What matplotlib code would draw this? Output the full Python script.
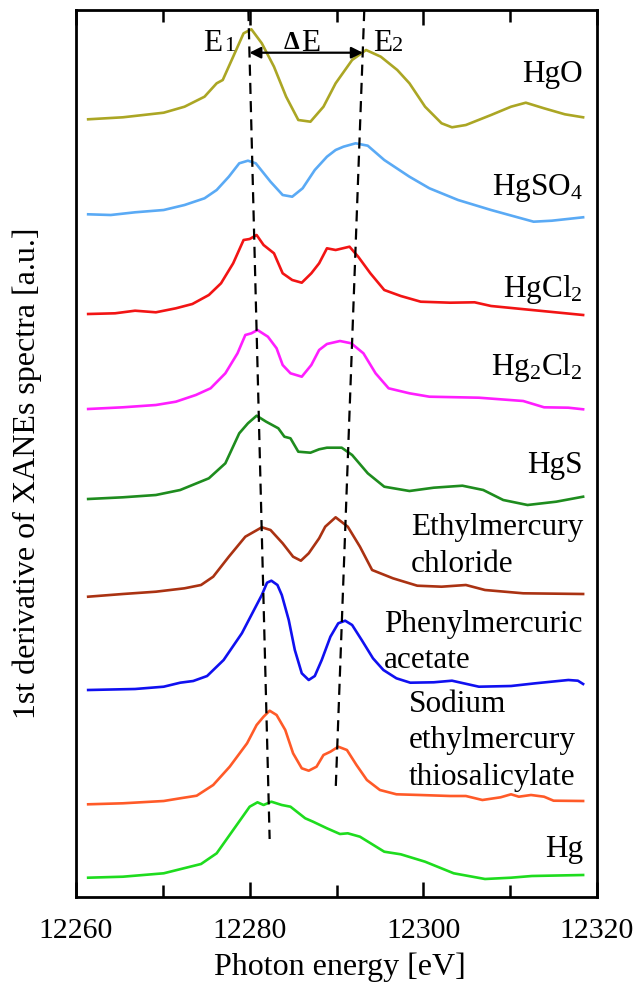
import matplotlib
matplotlib.use("Agg")
import matplotlib.pyplot as plt
from matplotlib.ticker import MultipleLocator

plt.rcParams["font.family"] = ["Liberation Serif", "DejaVu Serif"]
plt.rcParams["mathtext.fontset"] = "custom"
plt.rcParams["mathtext.rm"] = "Liberation Serif"
plt.rcParams["mathtext.it"] = "Liberation Serif:italic"

# ---- spectra: photon energy [eV] and 1st-derivative signal [a.u.] ----
e_hgo = [12261.4, 12265.4, 12270.1, 12272.5, 12274.8, 12276.2, 12276.9, 12278.1, 12279.3, 12280.2,
         12281.4, 12282.8, 12284.2, 12285.6, 12287.0, 12288.5, 12289.9, 12291.8, 12293.4, 12295.1,
         12297.0, 12298.4, 12300.2, 12302.1, 12303.3, 12304.9, 12307.8, 12310.1, 12311.8, 12313.9,
         12316.3, 12318.4]
d_hgo = [-2.3, -0.3, 4.3, 10.3, 20.3, 33.7, 37.0, 60.3, 83.7, 87.7,
         73.7, 50.3, 20.3, -3.0, -4.7, 10.3, 33.7, 57.0, 67.0, 60.3,
         47.0, 33.7, 10.3, -6.3, -10.3, -8.0, 2.0, 10.3, 14.3, 8.7,
         2.7, -0.3]

e_hgso4 = [12261.4, 12264.0, 12266.8, 12270.1, 12272.5, 12274.8, 12276.2, 12277.6, 12278.8, 12279.8,
           12280.7, 12282.4, 12283.8, 12284.9, 12286.1, 12287.5, 12288.9, 12289.9, 12290.8, 12292.2,
           12293.6, 12295.5, 12298.4, 12300.7, 12304.0, 12307.8, 12310.6, 12312.7, 12314.8, 12318.4]
d_hgso4 = [0.7, 0.0, 2.7, 5.0, 10.0, 16.7, 25.0, 38.3, 51.7, 54.3,
           51.7, 33.3, 20.0, 18.3, 26.7, 45.0, 58.3, 65.0, 68.3, 71.7,
           69.3, 55.0, 38.3, 26.7, 15.0, 5.0, -1.7, -6.7, -5.7, -2.3]

e_hgcl2 = [12261.4, 12264.5, 12266.8, 12269.2, 12271.5, 12273.4, 12275.3, 12276.7, 12278.1, 12279.3,
           12280.0, 12280.8, 12281.6, 12282.8, 12283.8, 12284.9, 12286.0, 12287.1, 12288.0, 12288.9,
           12289.9, 12291.5, 12292.5, 12293.9, 12295.5, 12297.4, 12299.7, 12303.1, 12305.9, 12307.8,
           12312.5, 12318.4]
d_hgcl2 = [0.0, 0.7, 3.3, 1.7, 5.7, 10.0, 19.0, 30.7, 50.7, 74.0,
           75.0, 79.0, 69.0, 60.7, 40.7, 34.0, 31.3, 40.7, 50.7, 65.7,
           64.0, 67.3, 57.3, 40.7, 24.0, 18.0, 12.3, 11.3, 11.7, 8.0,
           4.0, -1.0]

e_hg2cl2 = [12261.4, 12265.4, 12269.2, 12271.5, 12273.8, 12275.5, 12277.2, 12278.6, 12279.5, 12280.2,
            12280.9, 12282.1, 12283.1, 12283.8, 12284.7, 12286.0, 12287.1, 12288.0, 12288.9, 12290.4,
            12291.7, 12293.1, 12294.5, 12296.0, 12298.4, 12300.7, 12306.4, 12311.5, 12313.9, 12316.7,
            12318.4]
d_hg2cl2 = [0.0, 1.7, 4.0, 7.3, 14.0, 20.7, 35.7, 55.7, 74.0, 75.7,
            79.0, 72.3, 60.7, 44.0, 35.7, 32.3, 44.0, 59.0, 65.0, 68.0,
            65.7, 55.7, 35.7, 20.7, 15.7, 12.3, 11.3, 8.0, 1.7, 1.3,
            -0.3]

e_hgs = [12261.4, 12265.4, 12269.2, 12272.0, 12275.3, 12277.2, 12278.8, 12279.8, 12280.8, 12281.9,
         12283.3, 12284.0, 12284.7, 12285.6, 12287.0, 12288.0, 12288.9, 12290.6, 12291.8, 12293.6,
         12295.5, 12298.4, 12301.2, 12304.5, 12306.9, 12309.2, 12312.0, 12315.3, 12318.4]
d_hgs = [0.0, 1.7, 4.0, 9.0, 20.7, 35.7, 65.7, 75.7, 83.3, 77.3,
         70.7, 62.3, 60.7, 47.3, 46.3, 49.7, 51.3, 51.3, 44.0, 25.7,
         12.3, 8.0, 11.3, 13.3, 9.0, -1.0, -6.0, -2.7, 2.3]

e_ethg = [12261.4, 12265.4, 12269.2, 12272.5, 12274.4, 12275.8, 12277.6, 12279.5, 12281.4, 12282.4,
          12283.8, 12285.0, 12285.9, 12286.8, 12288.0, 12288.7, 12289.9, 12291.3, 12292.7, 12294.1,
          12296.5, 12299.3, 12302.1, 12304.9, 12307.1, 12311.5, 12318.4]
d_ethg = [0.3, 3.0, 5.3, 8.7, 12.0, 20.3, 40.3, 60.3, 69.7, 67.0,
          53.7, 40.3, 36.3, 43.7, 58.7, 70.3, 79.7, 70.3, 50.3, 27.0,
          18.7, 11.3, 10.3, 12.0, 7.0, 3.7, 3.0]

e_phhg = [12261.4, 12266.8, 12270.1, 12272.0, 12273.5, 12275.1, 12277.0, 12279.1, 12280.6, 12281.4,
          12282.0, 12282.5, 12283.2, 12283.7, 12284.5, 12285.2, 12286.0, 12286.8, 12287.5, 12288.3,
          12289.3, 12290.2, 12291.0, 12291.8, 12292.9, 12294.2, 12295.4, 12296.9, 12298.5, 12301.2,
          12303.3, 12306.4, 12310.1, 12312.9, 12316.7, 12317.8, 12318.4]
d_phhg = [0.0, 1.0, 3.3, 7.3, 9.0, 14.0, 30.0, 56.7, 81.7, 95.0,
          107.3, 109.3, 105.0, 95.0, 70.0, 40.0, 16.7, 10.0, 14.0, 30.0,
          53.3, 66.7, 69.3, 65.0, 50.0, 31.7, 20.0, 11.7, 7.3, 7.7,
          9.3, 3.3, 4.0, 6.7, 10.0, 9.3, 6.0]

e_thim = [12261.4, 12265.4, 12270.1, 12272.0, 12273.9, 12275.8, 12277.7, 12279.7, 12280.8, 12281.6,
          12282.3, 12283.1, 12284.1, 12285.0, 12286.0, 12286.8, 12287.7, 12288.5, 12289.3, 12290.2,
          12291.2, 12292.3, 12293.5, 12295.0, 12296.9, 12299.6, 12303.1, 12304.9, 12306.8, 12308.9,
          12310.1, 12311.0, 12312.4, 12313.9, 12315.0, 12318.4]
d_thim = [-0.3, 0.7, 3.0, 5.7, 8.3, 19.0, 37.3, 60.7, 79.0, 87.3,
          93.3, 89.0, 74.0, 50.7, 35.7, 33.3, 37.3, 49.0, 52.3, 57.3,
          54.0, 39.0, 24.0, 14.0, 9.7, 9.0, 8.0, 8.0, 4.0, 6.7,
          9.7, 7.3, 9.0, 7.3, 3.3, 3.0]

e_hg = [12261.4, 12265.4, 12270.1, 12274.4, 12276.2, 12278.1, 12280.0, 12280.9, 12281.6, 12282.5,
        12283.7, 12284.7, 12286.4, 12287.3, 12288.9, 12290.4, 12291.3, 12292.7, 12295.5, 12297.4,
        12300.2, 12303.5, 12307.1, 12310.1, 12312.5, 12318.4]
d_hg = [0.3, 1.3, 4.7, 14.0, 24.7, 48.0, 71.3, 75.7, 73.0, 76.3,
        73.0, 71.3, 59.7, 56.3, 49.7, 44.0, 44.7, 41.3, 26.3, 23.7,
        16.3, 4.7, -1.0, 0.3, 2.0, 3.0]

energies = [e_hgo, e_hgso4, e_hgcl2, e_hg2cl2, e_hgs, e_ethg, e_phhg, e_thim, e_hg]
signals = [d_hgo, d_hgso4, d_hgcl2, d_hg2cl2, d_hgs, d_ethg, d_phhg, d_thim, d_hg]
names = ["HgO", r"HgSO$_4$", r"HgCl$_2$", r"Hg$_2$Cl$_2$", "HgS",
         "Ethylmercury\nchloride", "Phenylmercuric\nacetate",
         "Sodium\nethylmercury\nthiosalicylate", "Hg"]
offsets = [780, 682, 583, 488, 398, 300, 207, 93, 19]

# E1 / E2 guide lines (energy at top, energy at bottom)
e1_guide = [12279.85, 12282.3]
e2_guide = [12293.2, 12289.9]

# ---- styles ----
colors = ["#ABA624", "#5AAAF5", "#F21414", "#FF1EFF", "#1E8C1E",
          "#AA3212", "#1010F0", "#FF5A28", "#1EDC1E"]
# label anchor (x, baseline y of first line, horizontal alignment)
label_pos = [(12318.4, 814.7, "right"), (12318.4, 702.0, "right"), (12318.4, 600.3, "right"),
             (12318.4, 522.0, "right"), (12318.4, 423.7, "right"), (12298.55, 362.0, "left"),
             (12295.5, 265.3, "left"), (12298.3, 185.3, "left"), (12318.4, 40.3, "right")]
line_step = 36.6
FS = 22.5

W, H = 641, 988
fig = plt.figure(figsize=(W / 100, H / 100), dpi=100)
ax = fig.add_axes([76 / W, 1 - 897 / H, 521 / W, 887 / H])

for e, d, off, c in zip(energies, signals, offsets, colors):
    ax.plot(e, [v + off for v in d], color=c, lw=1.9, solid_joinstyle="round")

for (x, y, ha), name in zip(label_pos, names):
    for i, line in enumerate(name.split("\n")):
        ax.text(x, y - i * line_step, line, ha=ha, va="baseline", fontsize=FS)

# dashed guides
dash = dict(color="black", lw=1.6, linestyle=(0, (5, 3.2)))
ax.plot(e1_guide, [887, 58], **dash)
ax.plot(e2_guide, [887, 106], **dash)

# energy separation arrow
ax.annotate("", xy=(12279.97, 844.3), xytext=(12293.03, 844.3),
            arrowprops=dict(arrowstyle="<|-|>", color="black", lw=1.6,
                            mutation_scale=17, shrinkA=0, shrinkB=0))
ax.text(12274.63, 846.5, "E", fontsize=FS, va="baseline", ha="left")
ax.text(12277.04, 846.5, "1", fontsize=16, va="baseline", ha="left")
ax.text(12283.9, 848.0, "Δ", fontsize=18, fontweight="bold", va="baseline", ha="left")
ax.text(12285.9, 846.5, "E", fontsize=FS, va="baseline", ha="left")
ax.text(12294.2, 846.5, "E", fontsize=FS, va="baseline", ha="left")
ax.text(12296.4, 846.5, "2", fontsize=16, va="baseline", ha="left")

ax.set_xlim(12260, 12320)
ax.set_ylim(0, 887)
ax.xaxis.set_major_locator(MultipleLocator(20))
ax.xaxis.set_minor_locator(MultipleLocator(10))
ax.tick_params(axis="x", which="both", direction="in", top=True, bottom=True,
               width=1.8, labelsize=21.5, pad=15)
ax.tick_params(axis="x", which="major", length=11)
ax.tick_params(axis="x", which="minor", length=8.6)
ax.set_yticks([])
for sp in ax.spines.values():
    sp.set_linewidth(2.0)

fig.text(340 / W, 1 - 975 / H, "Photon energy [eV]", ha="center", va="baseline", fontsize=23)
fig.text(27 / W, 1 - 473 / H, "1st derivative of XANEs spectra [a.u.]", ha="center",
         va="center", rotation=90, fontsize=23)

fig.savefig("out.png", dpi=100)
